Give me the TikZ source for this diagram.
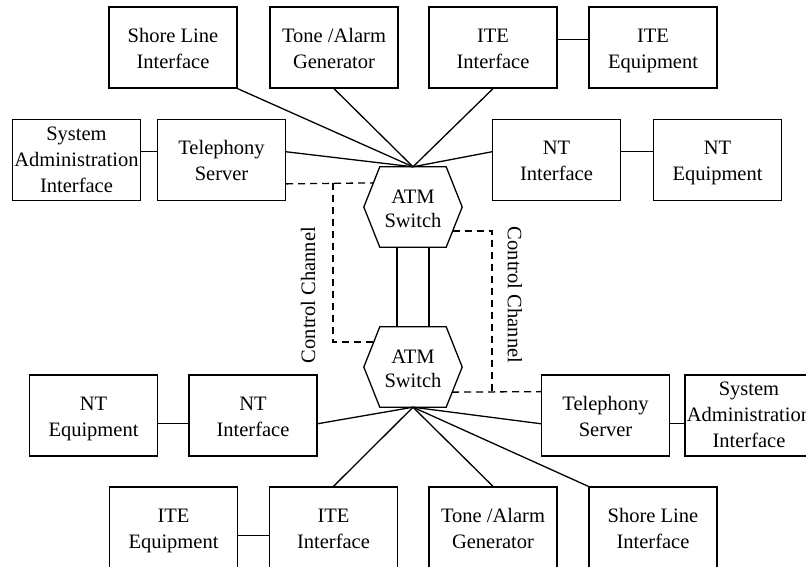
\documentclass[tikz,border=0pt]{standalone}
\usepackage{fontspec}
\setmainfont{Liberation Serif}
\usetikzlibrary{calc}

% centred multi-line label; the rule in the first row sets the top padding
\newcommand\boxtext[2][22.8pt]{\begin{tabular}{@{}c@{}}\rule{0pt}{#1}#2\end{tabular}}

\begin{document}
\begin{tikzpicture}[x=1pt,y=-1pt,
  every node/.style={font=\fontsize{20.5}{26}\selectfont},
  unit/.style={draw, line width=1.3pt, minimum width=128pt, minimum height=81pt,
    inner sep=0pt},
  link/.style={line width=1.3pt},
  ctrl/.style={line width=1.3pt, dash pattern=on 7pt off 5pt},
  hexbody/.style={minimum width=98pt, minimum height=80pt, inner sep=0pt,
    font=\fontsize{20.5}{24}\selectfont}]

\useasboundingbox (0,0) rectangle (806,566);
\clip (0,0) rectangle (806,566);

% ---- upper half ----
\node[unit] (shoreA) at (173,47.5)  {\boxtext{Shore Line\\Interface}};
\node[unit] (toneA)  at (334,47.5)  {\boxtext{Tone /Alarm\\Generator}};
\node[unit] (iteiA)  at (493,47.5)  {\boxtext{ITE\\Interface}};
\node[unit] (iteeA)  at (653,47.5)  {\boxtext{ITE\\Equipment}};
\node[unit] (sysA)   at (76.5,160)  {\boxtext[20.5pt]{System\\Administration\\Interface}};
\node[unit] (telA)   at (221.5,160) {\boxtext{Telephony\\Server}};
\node[unit] (ntiA)   at (556.5,160) {\boxtext{NT\\Interface}};
\node[unit] (nteA)   at (717.5,160) {\boxtext{NT\\Equipment}};

% ---- lower half ----
\node[unit] (nteB)   at (93.5,415.5)  {\boxtext{NT\\Equipment}};
\node[unit] (ntiB)   at (253,415.5)   {\boxtext{NT\\Interface}};
\node[unit] (telB)   at (605.5,415.5) {\boxtext{Telephony\\Server}};
\node[unit] (sysB)   at (749,415.5)   {\boxtext[20.5pt]{System\\Administration\\Interface}};
\node[unit] (iteeB)  at (173.5,527.5) {\boxtext{ITE\\Equipment}};
\node[unit] (iteiB)  at (333.5,527.5) {\boxtext{ITE\\Interface}};
\node[unit] (toneB)  at (493,527.5)   {\boxtext{Tone /Alarm\\Generator}};
\node[unit] (shoreB) at (653,527.5)   {\boxtext{Shore Line\\Interface}};

% ---- the two ATM switches (hexagons) ----
\node[hexbody] (swA) at (413,207) {\boxtext[23.8pt]{ATM\\Switch}};
\node[hexbody] (swB) at (413,367) {\boxtext[23.8pt]{ATM\\Switch}};
\foreach \s in {swA,swB}{
  \coordinate (\s-w)  at (\s.west);
  \coordinate (\s-nw) at ([xshift=16pt]\s.north west);
  \coordinate (\s-ne) at ([xshift=-16pt]\s.north east);
  \coordinate (\s-e)  at (\s.east);
  \coordinate (\s-se) at ([xshift=-16pt]\s.south east);
  \coordinate (\s-sw) at ([xshift=16pt]\s.south west);
  \draw[link, line join=miter] (\s-w) -- (\s-nw) -- (\s-ne) -- (\s-e) -- (\s-se) -- (\s-sw) -- cycle;
}

% trunk between the switches
\draw[link] ([xshift=-16pt]swA.south) -- ([xshift=-16pt]swB.north);
\draw[link] ([xshift=16pt]swA.south) -- ([xshift=16pt]swB.north);

% ---- upper links ----
\draw[link] (shoreA.south east) -- (swA.north);
\draw[link] (toneA.south) -- (swA.north);
\draw[link] (iteiA.south) -- (swA.north);
\draw[link] ($(telA.north east)!0.4!(telA.south east)$) -- (swA.north);
\draw[link] ($(ntiA.north west)!0.4!(ntiA.south west)$) -- (swA.north);
\draw[link] ($(sysA.north east)!0.4!(sysA.south east)$) -- ($(telA.north west)!0.4!(telA.south west)$);
\draw[link] ($(ntiA.north east)!0.4!(ntiA.south east)$) -- ($(nteA.north west)!0.4!(nteA.south west)$);
\draw[link] ($(iteiA.north east)!0.4!(iteiA.south east)$) -- ($(iteeA.north west)!0.4!(iteeA.south west)$);

% ---- lower links ----
\draw[link] (shoreB.north west) -- (swB.south);
\draw[link] (toneB.north) -- (swB.south);
\draw[link] (iteiB.north) -- (swB.south);
\draw[link] ($(telB.north west)!0.6!(telB.south west)$) -- (swB.south);
\draw[link] ($(ntiB.north east)!0.6!(ntiB.south east)$) -- (swB.south);
\draw[link] ($(nteB.north east)!0.6!(nteB.south east)$) -- ($(ntiB.north west)!0.6!(ntiB.south west)$);
\draw[link] ($(telB.north east)!0.6!(telB.south east)$) -- ($(sysB.north west)!0.6!(sysB.south west)$);
\draw[link] ($(iteeB.north east)!0.6!(iteeB.south east)$) -- ($(iteiB.north west)!0.6!(iteiB.south west)$);

% ---- control channels ----
\coordinate (ctlL) at (333,183);
\coordinate (ctlR) at (492,392);
\draw[ctrl] ($(telA.north east)!0.79!(telA.south east)$) -- ($(swA-w)!0.6!(swA-nw)$);
\draw[ctrl] (ctlL) |- ($(swB-w)!0.625!(swB-nw)$);
\draw[ctrl] ($(swA-e)!0.6!(swA-se)$) -| (ctlR);
\draw[ctrl] ($(swB-e)!0.625!(swB-se)$) -- ($(telB.north west)!0.21!(telB.south west)$);

\node[rotate=90]  (lblL) at (308,295) {Control Channel};
\node[rotate=-90] (lblR) at (515,295) {Control Channel};

\end{tikzpicture}
\end{document}
